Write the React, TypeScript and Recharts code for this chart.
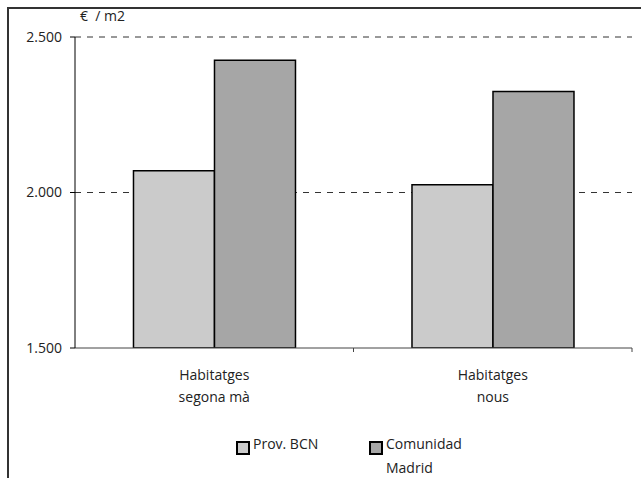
import React from 'react';
import { BarChart, Bar, XAxis, YAxis, CartesianGrid } from 'recharts';

const categories = ['Habitatges\nsegona mà', 'Habitatges\nnous'];
const provBcn = [2070, 2025];
const comunidadMadrid = [2425, 2325];
const yTicks = [1500, 2000, 2500];
const gridValues = [2000, 2500];

const seriesNames = ['Prov. BCN', 'Comunidad\nMadrid'];
const seriesColors = ['#cbcbcb', '#a6a6a6'];

const data = categories.map((c, i) => ({ name: c, bcn: provBcn[i], madrid: comunidadMadrid[i] }));

const FONT = '"Open Sans", sans-serif';
const TEXT = '#222';

const fmt = (v: number) => v.toLocaleString('de-DE');

// category label on two lines, plus the tick mark on the right edge of the band
const CategoryTick = (props: any) => {
  const { x, y, payload } = props;
  const step = (props.width || 557) / categories.length;
  const lines = String(payload.value).split('\n');
  return (
    <g transform={`translate(${x},${y})`}>
      <line x1={step / 2} x2={step / 2} y1={0} y2={4} stroke="#444" />
      {lines.map((l, i) => (
        <text key={i} x={0} y={32 + i * 22} textAnchor="middle" fontFamily={FONT} fontSize={14} fill={TEXT}>
          {l}
        </text>
      ))}
    </g>
  );
};

export default function App() {
  return (
    <div style={{ position: 'absolute', left: 0, top: 0, width: 641, height: 478, background: '#fff', overflow: 'hidden' }}>
      <div style={{ position: 'absolute', left: 7, top: 7, right: -10, bottom: -10, borderLeft: '2px solid #333', borderTop: '2px solid #333' }} />
      <BarChart
        width={641}
        height={478}
        data={data}
        margin={{ top: 37, right: 9, bottom: 100, left: 15 }}
        barGap={0}
        barCategoryGap="21%"
      >
        <CartesianGrid vertical={false} horizontalValues={gridValues} stroke="#333" strokeDasharray="6 6" />
        <XAxis
          dataKey="name"
          height={30}
          tick={<CategoryTick />}
          tickLine={false}
          tickSize={0}
          tickMargin={0}
          axisLine={{ stroke: '#444' }}
          interval={0}
        />
        <YAxis
          width={60}
          domain={[1500, 2500]}
          ticks={yTicks}
          tickFormatter={fmt}
          tick={{ fontFamily: FONT, fontSize: 14, fill: TEXT }}
          tickSize={5}
          tickMargin={8}
          axisLine={{ stroke: '#000' }}
          tickLine={{ stroke: '#000' }}
          allowDataOverflow
        />
        <Bar dataKey="bcn" fill={seriesColors[0]} stroke="#000" strokeWidth={1.5} isAnimationActive={false} />
        <Bar dataKey="madrid" fill={seriesColors[1]} stroke="#000" strokeWidth={1.5} isAnimationActive={false} />
      </BarChart>
      <div style={{ position: 'absolute', left: 80, top: 6, fontFamily: FONT, fontSize: 14, color: TEXT, whiteSpace: 'pre' }}>
        {'€  / m2'}
      </div>
      {seriesNames.map((n, i) => (
        <div
          key={n}
          style={{ position: 'absolute', left: i === 0 ? 236 : 369, top: 437, display: 'flex', alignItems: 'flex-start', fontFamily: FONT, fontSize: 14, color: TEXT, lineHeight: '25px' }}
        >
          <span style={{ width: 10, height: 10, marginTop: 4, marginRight: 3, background: seriesColors[i], border: '2px solid #000', flex: 'none' }} />
          <span style={{ whiteSpace: 'pre', lineHeight: '24px', marginTop: -5 }}>{n}</span>
        </div>
      ))}
    </div>
  );
}
